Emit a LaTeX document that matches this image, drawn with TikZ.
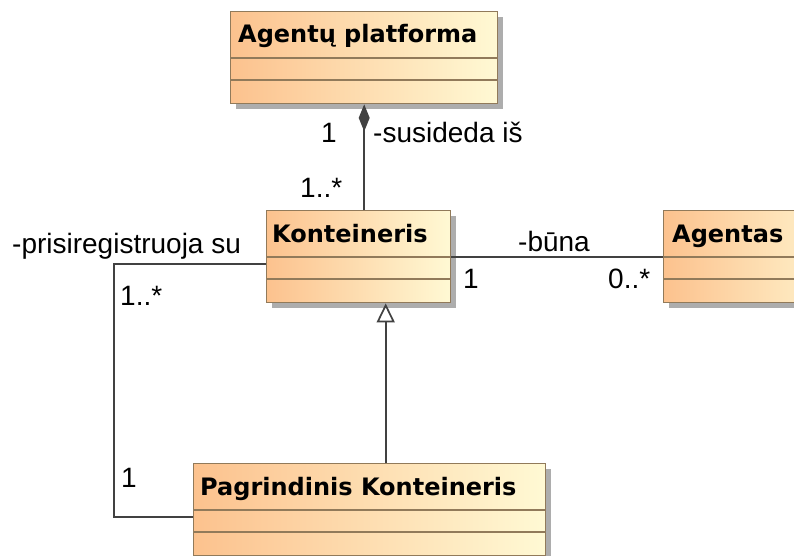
\documentclass[tikz,border=0pt]{standalone}
\usepackage{fontspec}
\setmainfont{Liberation Sans}
\newfontfamily\titlefont{DejaVu Sans}
\usetikzlibrary{arrows.meta,shadows}
\definecolor{boxleft}{RGB}{252,194,142}
\definecolor{boxright}{RGB}{255,249,212}
\definecolor{boxedge}{RGB}{145,122,90}
\definecolor{wire}{RGB}{65,65,65}
\tikzset{
  classbox/.style={rectangle, draw=boxedge, line width=1.4pt,
    left color=boxleft, right color=boxright, anchor=north west,
    minimum height=92pt, inner sep=0pt,
    drop shadow={shadow xshift=5pt, shadow yshift=-5pt, fill=black!32, opacity=1}},
  compartment/.style={draw=boxedge, line width=1.4pt},
  classname/.style={anchor=base west, inner sep=0pt,
    font=\titlefont\bfseries\fontsize{24}{28}\selectfont},
  wireline/.style={draw=wire, line width=1.7pt},
  role/.style={anchor=base west, inner sep=0pt, font=\fontsize{28}{32}\selectfont}
}
\begin{document}
\begin{tikzpicture}[x=1pt, y=-1pt]
  \useasboundingbox (0,0) rectangle (794,556);
  \clip (0,0) rectangle (794,556);

  % class boxes
  \node[classbox, minimum width=267pt] (ap) at (230,11) {};
  \node[classbox, minimum width=184pt] (k)  at (266,210) {};
  \node[classbox, minimum width=190pt] (ag) at (663,210) {};
  \node[classbox, minimum width=352pt] (pk) at (193,463) {};

  % compartments
  \foreach \c in {ap,k,ag,pk}{
    \draw[compartment] ([yshift=-47pt]\c.north west) -- ([yshift=-47pt]\c.north east);
    \draw[compartment] ([yshift=-69pt]\c.north west) -- ([yshift=-69pt]\c.north east);
  }

  % class names
  \node[classname] (apn) at (238,43)  {Agentų platforma};
  \node[classname] (kn)  at (272,242) {Konteineris};
  \node[classname] (agn) at (672,242) {Agentas};
  \node[classname] (pkn) at (200,495) {Pagrindinis Konteineris};

  % composition: platforma consists of containers
  \draw[wireline, -{Diamond[length=27pt, width=11pt, fill=wire]}]
    (ap.south |- k.north) -- (ap.south);

  % association Konteineris -- Agentas
  \draw[wireline] (k.east) -- (ag.west);

  % generalization Pagrindinis Konteineris -> Konteineris
  \coordinate (gtop) at ([xshift=27pt]k.south);
  \draw[wireline, -{Triangle[open, length=19pt, width=18pt, fill=white]}]
    (gtop |- pk.north) -- (gtop);

  % self registration link
  \coordinate (regL) at (114,264);
  \coordinate (regB) at (114,517);
  \draw[wireline] (regL -| k.west) -- (regL) -- (regB) -- (regB -| pk.west);

  % role names and multiplicities
  \node[role] (m1)  at (321,143) {1};
  \node[role] (r1)  at (373,143) {-susideda iš};
  \node[role] (m2)  at (300,197) {1..*};
  \node[role] (r2)  at (12,253)  {-prisiregistruoja su};
  \node[role] (m3)  at (120,305) {1..*};
  \node[role] (m4)  at (121,487) {1};
  \node[role] (r3)  at (518,251) {-būna};
  \node[role] (m5)  at (463,288) {1};
  \node[role] (m6)  at (608,288) {0..*};
\end{tikzpicture}
\end{document}
